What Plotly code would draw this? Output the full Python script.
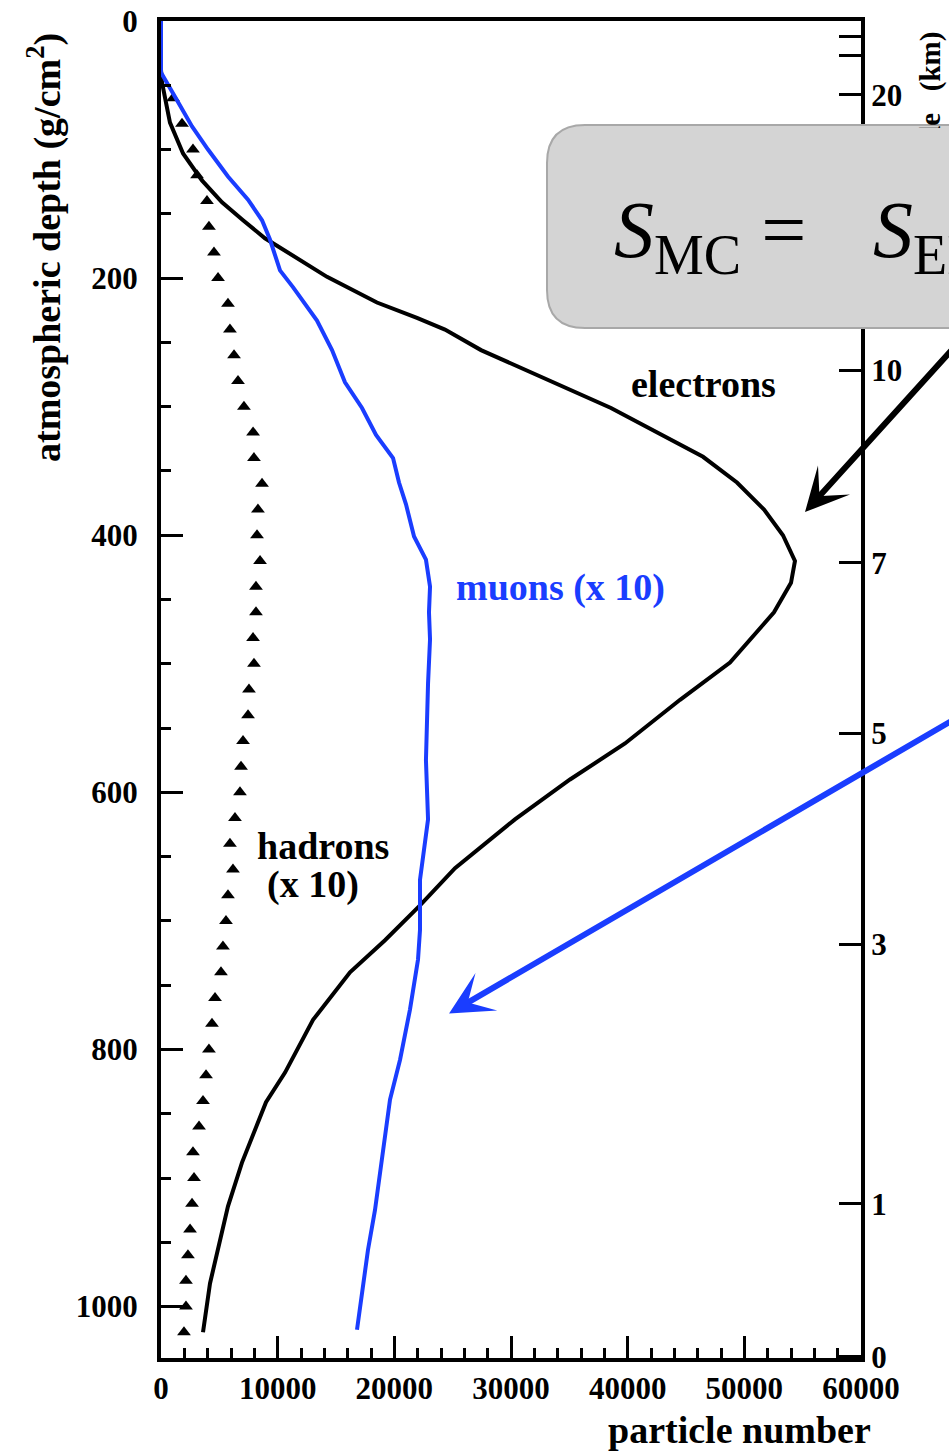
import plotly.graph_objects as go

# ---------------- data ----------------
electron_depth = [38, 48, 79, 103, 124, 141, 155, 169, 199, 219, 231, 240, 256, 301, 339, 359,
                  380, 400, 420, 437, 460, 499, 528, 562, 590, 621, 659, 688, 715, 740, 777,
                  818, 841, 863, 888, 922, 956, 982, 1020]
electron_n = [0, 90, 770, 1890, 3510, 5230, 7030, 8910, 14230, 18510, 21940, 24340, 27430, 38570,
              46460, 49370, 51690, 53310, 54340, 54000, 52540, 48770, 44490, 39770, 35060, 30340,
              25200, 22200, 19200, 16200, 13030, 10630, 9000, 8060, 6940, 5740, 4890, 4200, 3600]

muon_depth = [0, 40, 59, 82, 100, 121, 139, 155, 170, 183, 194, 207, 233, 256, 281, 301, 322,
              340, 359, 376, 401, 419, 440, 460, 481, 515, 575, 621, 645, 668, 707, 730, 769,
              808, 839, 878, 925, 956, 987, 1018]
muon_n = [0, 0, 1200, 2660, 4030, 5740, 7460, 8660, 9340, 9770, 10200, 11310, 13370, 14660,
          15770, 17230, 18430, 19890, 20400, 21000, 21690, 22710, 23060, 22970, 23060, 22890,
          22710, 22890, 22540, 22200, 22200, 22030, 21340, 20490, 19630, 19030, 18340, 17740,
          17230, 16800]

hadron_depth = [60, 80, 100, 120, 140, 160, 180, 200, 220, 240, 260, 280, 300, 320, 340, 360,
                380, 400, 420, 440, 460, 480, 500, 520, 540, 560, 580, 600, 620, 640, 660, 680,
                700, 720, 740, 760, 780, 800, 820, 840, 860, 880, 900, 920, 940, 960, 980, 1000,
                1020]
hadron_n = [1030, 1800, 2740, 3090, 3940, 4110, 4540, 4890, 5740, 5910, 6260, 6600, 7110, 7890,
            7970, 8660, 8310, 8230, 8490, 8140, 8140, 7890, 7970, 7540, 7460, 7030, 6860, 6770,
            6340, 5910, 6170, 5740, 5570, 5310, 5140, 4630, 4370, 4110, 3860, 3600, 3260, 2740,
            2830, 2660, 2490, 2310, 2140, 2140, 1970]

# right axis: altitude (km) ticks and their atmospheric depth (g/cm^2)
altitude_labels = ["", "", "20", "10", "7", "5", "3", "1", "0"]
altitude_depth = [12, 27, 57.5, 271.5, 421.5, 554, 718, 920, 1039]

# ---------------- styling ----------------
FONT = "Liberation Serif"
BLUE = "#1a3dff"
W, H = 949, 1451
L, R, T, B = 161, 88, 21, 93
PW, PH = W - L - R, H - T - B


def px_x(px):
    return (px - L) / PW


def px_y(py):
    return 1 - (py - T) / PH


tickfont = dict(family=FONT, size=31, color="black", weight="bold")

fig = go.Figure()
fig.add_trace(go.Scatter(x=hadron_n, y=hadron_depth, mode="markers",
                         marker=dict(symbol="triangle-up", size=12, color="black"),
                         showlegend=False, hoverinfo="skip"))
fig.add_trace(go.Scatter(x=electron_n, y=electron_depth, mode="lines",
                         line=dict(color="black", width=4), showlegend=False))
fig.add_trace(go.Scatter(x=muon_n, y=muon_depth, mode="lines",
                         line=dict(color=BLUE, width=4), showlegend=False))
fig.add_trace(go.Scatter(x=[None], y=[None], yaxis="y2", showlegend=False, hoverinfo="skip"))

common = dict(showgrid=False, zeroline=False, showline=True, linewidth=4, linecolor="black",
              ticks="inside", ticklen=22, tickwidth=3, tickcolor="black", tickfont=tickfont,
              automargin=False)

fig.update_layout(
    width=W, height=H, autosize=False,
    margin=dict(l=L, r=R, t=T, b=B, pad=0, autoexpand=False),
    plot_bgcolor="white", paper_bgcolor="white", showlegend=False,
    xaxis=dict(range=[0, 60000], tickmode="linear", tick0=0, dtick=10000, mirror=True,
               tickformat="d", ticklabelstandoff=0,
               minor=dict(tick0=0, dtick=2000, ticks="inside", ticklen=10, tickwidth=3,
                          tickcolor="black", showgrid=False),
               **common),
    yaxis=dict(range=[1040, 0], tickmode="linear", tick0=0, dtick=200,
               ticklabelstandoff=13,
               minor=dict(tick0=0, dtick=50, ticks="inside", ticklen=10, tickwidth=3,
                          tickcolor="black", showgrid=False),
               **common),
    yaxis2=dict(overlaying="y", side="right", range=[1040, 0], tickmode="array",
                tickvals=altitude_depth, ticktext=altitude_labels, ticklabelstandoff=0,
                **common),
)

# rounded formula box (covers the right axis)
bx0, bx1, by0, by1, rad = 547, 1120, 125, 328, 38
x0, x1 = px_x(bx0), px_x(bx1)
yt, yb = px_y(by0), px_y(by1)
rx, ry = rad / PW, rad / PH
path = (f"M{x0+rx},{yt} L{x1},{yt} L{x1},{yb} L{x0+rx},{yb} "
        f"Q{x0},{yb} {x0},{yb+ry} L{x0},{yt-ry} Q{x0},{yt} {x0+rx},{yt} Z")
fig.add_shape(type="path", path=path, xref="paper", yref="paper", layer="above",
              fillcolor="#d4d4d4", line=dict(color="#a8a8a8", width=2))

lab = dict(family=FONT, size=38, color="black", weight="bold")
annos = [
    # axis titles
    dict(text="atmospheric depth (g/cm<sup>2</sup>)", xref="paper", yref="paper",
         x=px_x(44), y=px_y(248), textangle=-90, showarrow=False, font=lab,
         xanchor="center", yanchor="middle"),
    dict(text="altitude&nbsp;&nbsp; (km)", xref="paper", yref="paper",
         x=px_x(930), y=px_y(120), textangle=-90, showarrow=False,
         font=dict(family=FONT, size=29, color="black", weight="bold"),
         xanchor="center", yanchor="middle"),
    # cover of the title behind the formula box
    dict(text=" ", xref="paper", yref="paper", x=px_x(893), y=px_y(128),
         xanchor="left", yanchor="top", width=80, height=196, bgcolor="#d4d4d4",
         borderpad=0, borderwidth=0, showarrow=False),
    dict(text="particle number", xref="paper", yref="paper", x=px_x(739), y=px_y(1430),
         showarrow=False, font=lab, xanchor="center", yanchor="middle"),
    # curve labels
    dict(text="electrons", x=46460, y=282, showarrow=False, font=lab),
    dict(text="muons (x 10)", x=34200, y=441, showarrow=False,
         font=dict(family=FONT, size=38, color=BLUE, weight="bold")),
    dict(text="hadrons", x=13890, y=642, showarrow=False, font=lab),
    dict(text="(x 10)", x=13030, y=672, showarrow=False, font=lab),
    # formula
    dict(text="<i>S</i><sub>MC</sub> =&nbsp;&nbsp;&nbsp;&#8202;<i>S</i><sub>EM</sub>",
         xref="paper", yref="paper", x=px_x(612), y=px_y(236), xanchor="left",
         yanchor="middle", showarrow=False,
         font=dict(family=FONT, size=80, color="black")),
    # arrows
    dict(text="", x=55200, y=382, ax=71060, ay=223, axref="x", ayref="y",
         showarrow=True, arrowhead=3, arrowsize=1.2, arrowwidth=6, arrowcolor="black"),
    dict(text="", x=24690, y=772, ax=71060, ay=527, axref="x", ayref="y",
         showarrow=True, arrowhead=3, arrowsize=1.2, arrowwidth=6, arrowcolor=BLUE),
]
fig.update_layout(annotations=annos)

fig.write_html("out.html")
